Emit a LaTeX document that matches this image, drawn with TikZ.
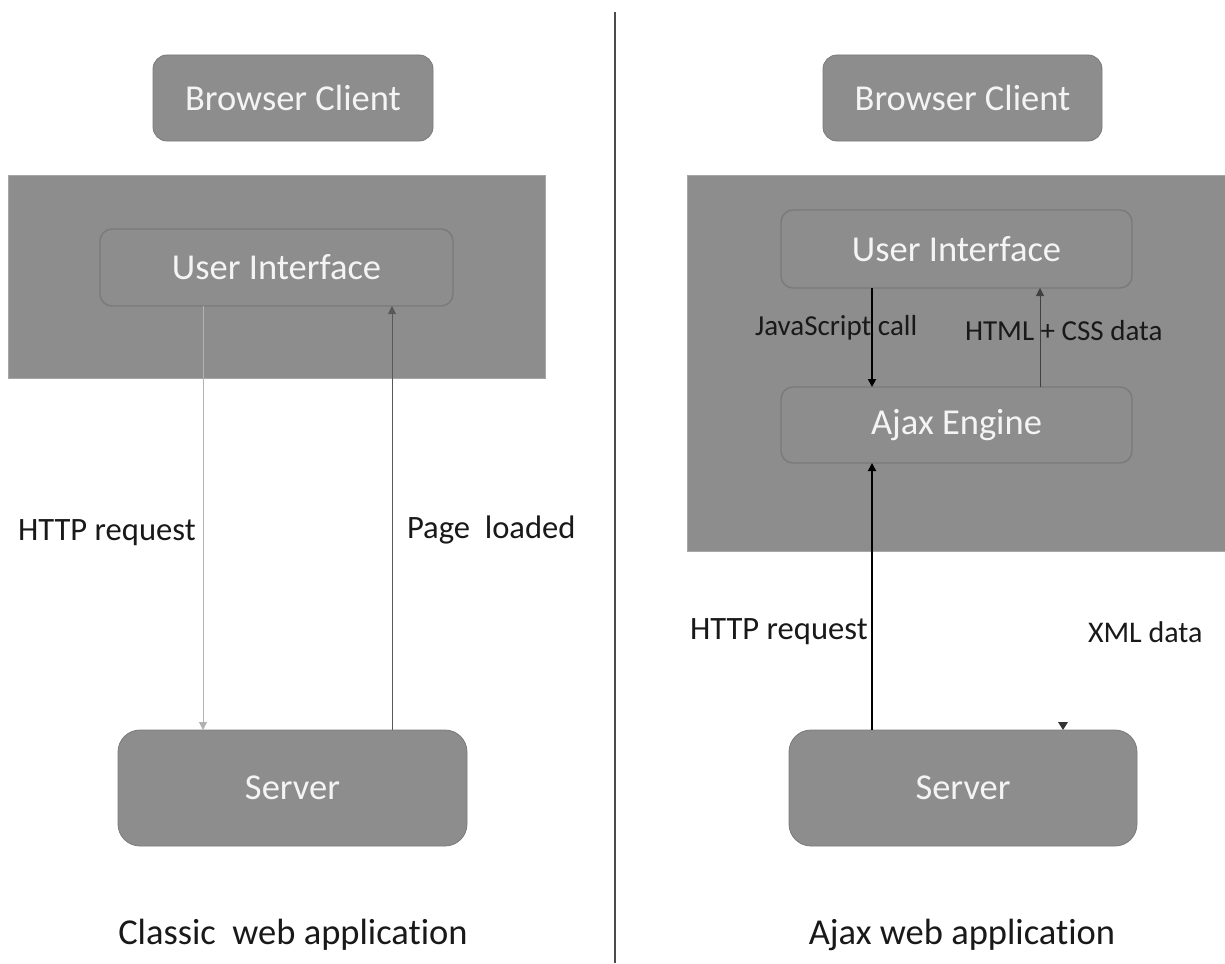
\documentclass[tikz,border=0pt]{standalone}
\usepackage{fontspec}
\setmainfont[Ligatures={NoCommon,NoRequired}, Contextuals=NoAlternate]{Carlito}
\usetikzlibrary{arrows.meta}
\definecolor{boxgray}{HTML}{8D8D8D}
\definecolor{edgegray}{HTML}{7A7A7A}
\definecolor{rimgray}{HTML}{A6A6A6}
\definecolor{boxtext}{HTML}{F4F4F4}
\tikzset{
  x=1pt, y=-1pt,
  every node/.style={inner sep=0pt, outer sep=0pt},
  boxtxt/.style={font=\fontsize{36.5}{42}\selectfont, text=boxtext},
  lbl/.style={font=\fontsize{32.6}{38}\selectfont, text=black!90, anchor=west},
  caption/.style={font=\fontsize{36.5}{42}\selectfont, text=black!90},
  topbox/.style={boxtxt, fill=boxgray, draw=edgegray, line width=0.8pt, rounded corners=14pt},
  panel/.style={fill=boxgray, draw=rimgray, line width=1pt},
  innerbox/.style={boxtxt, fill=boxgray, draw=edgegray, line width=1.4pt, rounded corners=12pt},
  serverbox/.style={boxtxt, fill=boxgray, draw=edgegray, line width=0.8pt, rounded corners=22pt},
  tip/.style={-{Triangle[width=8pt,length=8pt]}},
}
\begin{document}
\begin{tikzpicture}
\useasboundingbox (0,0) rectangle (1225,963);
\fill[white] (0,0) rectangle (1225,963);

% divider between the two halves
\coordinate (divtop) at (615,12);
\coordinate (divbot) at (615,963);
\draw[black!70, line width=2pt] (divtop) -- (divbot);

% ---------- classic web application ----------
\node[topbox, minimum width=280pt, minimum height=86pt] (bcL) at (293,98) {Browser Client};
\node[panel, minimum width=537pt, minimum height=203pt] (panL) at (276.5,276.5) {};
\node[innerbox, minimum width=353pt, minimum height=77pt] (uiL) at (276.5,267.5) {User Interface};
\node[serverbox, minimum width=349pt, minimum height=116pt] (srvL) at (292.5,788) {Server};

\coordinate (xreqL) at (203,0);
\coordinate (xpageL) at (392,0);
\draw[tip, black!30, line width=0.8pt] (uiL.south -| xreqL) -- (srvL.north -| xreqL);
\draw[tip, black!65, line width=1pt] (srvL.north -| xpageL) -- (uiL.south -| xpageL);

\node[lbl] (reqL) at (18,533) {HTTP request};
\node[lbl] (pageL) at (407,530) {Page\ \ loaded};
\node[caption] (capL) at (293,935) {Classic\ \ web application};

% ---------- ajax web application ----------
\node[topbox, minimum width=279pt, minimum height=86pt] (bcR) at (962.5,98) {Browser Client};
\node[panel, minimum width=538pt, minimum height=376pt] (panR) at (956,363) {};
\node[innerbox, minimum width=351pt, minimum height=78pt] (uiR) at (956.5,249) {User Interface};
\node[innerbox, minimum width=351pt, minimum height=76pt] (ajax) at (956.5,425) {Ajax Engine};
\node[serverbox, minimum width=348pt, minimum height=116pt] (srvR) at (963,788) {Server};

\node[lbl, font=\fontsize{29}{34}\selectfont] (jsl) at (755,328) {JavaScript call};
\node[lbl, font=\fontsize{29}{34}\selectfont] (htmll) at (965,331) {HTML + CSS data};
\node[lbl] (reqR) at (690,632) {HTTP request};
\node[lbl, font=\fontsize{30}{36}\selectfont] (xmlR) at (1088,632) {XML data};

\coordinate (xjs) at (872,0);
\coordinate (xhtml) at (1040,0);
\coordinate (xxml) at (1063,0);
\coordinate (xmlstart) at (1063,718);
\draw[tip, black, line width=1.8pt] (uiR.south -| xjs) -- (ajax.north -| xjs);
\draw[tip, black!75, line width=1pt] (ajax.north -| xhtml) -- (uiR.south -| xhtml);
\draw[tip, black, line width=1.8pt] (srvR.north -| xjs) -- (ajax.south -| xjs);
\draw[tip, white, line width=0.1pt] (xmlstart) -- (srvR.north -| xxml);
\fill[black!80] (1058,722) -- (1068,722) -- (1063,730) -- cycle;

\node[caption] (capR) at (962,935) {Ajax web application};
\end{tikzpicture}
\end{document}
